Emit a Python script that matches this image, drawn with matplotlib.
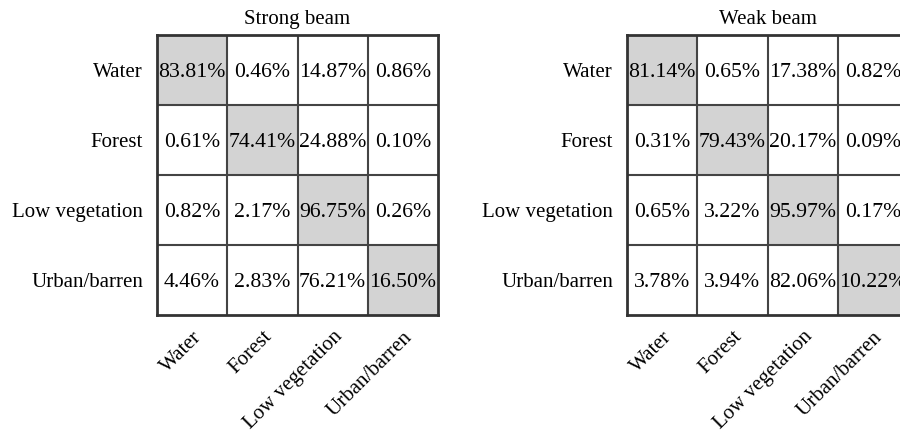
import numpy as np
import matplotlib.pyplot as plt
from matplotlib.colors import ListedColormap

plt.rcParams['font.family'] = ['Liberation Serif', 'DejaVu Serif']

# ── Data ──────────────────────────────────────────────────────────────────────
classes = ['Water', 'Forest', 'Low vegetation', 'Urban/barren']

strong_beam = np.array([
    [83.81, 0.46, 14.87, 0.86],
    [0.61, 74.41, 24.88, 0.10],
    [0.82, 2.17, 96.75, 0.26],
    [4.46, 2.83, 76.21, 16.50],
])

weak_beam = np.array([
    [81.14, 0.65, 17.38, 0.82],
    [0.31, 79.43, 20.17, 0.09],
    [0.65, 3.22, 95.97, 0.17],
    [3.78, 3.94, 82.06, 10.22],
])

titles = ['Strong beam', 'Weak beam']

# ── Plotting ──────────────────────────────────────────────────────────────────
W, H = 900, 434
fig = plt.figure(figsize=(W / 100, H / 100), dpi=100)

cmap = ListedColormap(['white', '#d3d3d3'])
line_col = '#444444'
fs = 15

def draw_matrix(ax, mat, title):
    n = mat.shape[0]
    mask = np.eye(n)
    ax.imshow(mask, cmap=cmap, vmin=0, vmax=1, aspect='auto',
              extent=(-0.5, n - 0.5, n - 0.5, -0.5), interpolation='nearest')
    for i in range(n):
        for j in range(n):
            ax.text(j, i, f'{mat[i, j]:.2f}%', ha='center', va='center_baseline',
                    fontsize=15.7, color='black')
    for k in range(1, n):
        ax.axhline(k - 0.5, color=line_col, lw=1.5)
        ax.axvline(k - 0.5, color=line_col, lw=1.5)
    for s in ax.spines.values():
        s.set_color('#333333')
        s.set_linewidth(2.0)
    ax.set_xlim(-0.5, n - 0.5)
    ax.set_ylim(n - 0.5, -0.5)
    ax.set_xticks(range(n))
    ax.set_yticks(range(n))
    ax.set_xticklabels(classes, rotation=45, ha='right', rotation_mode='anchor',
                       fontsize=fs)
    ax.set_yticklabels(classes, fontsize=fs)
    ax.tick_params(length=0, pad=10)
    ax.tick_params(axis='x', pad=9)
    ax.set_title(title, fontsize=fs, pad=8)

ax1 = fig.add_axes([157 / W, (H - 315) / H, 281 / W, 280 / H])
ax2 = fig.add_axes([627 / W, (H - 315) / H, 281 / W, 280 / H])

draw_matrix(ax1, strong_beam, titles[0])
draw_matrix(ax2, weak_beam, titles[1])

plt.savefig('out.png', dpi=100)
